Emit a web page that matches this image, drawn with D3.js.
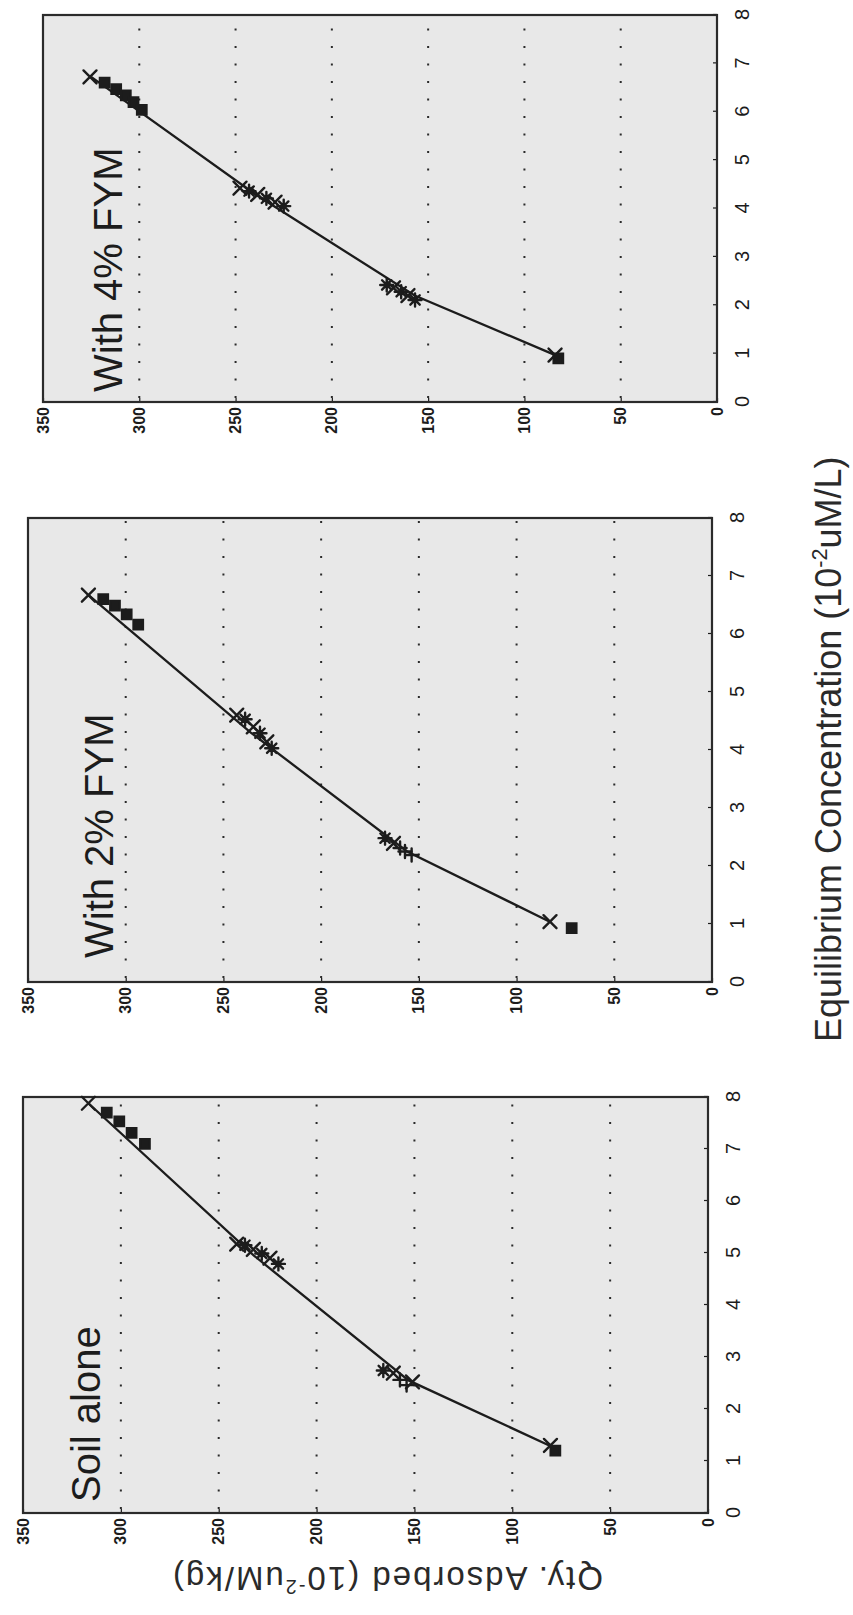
<!DOCTYPE html>
<html>
<head>
<meta charset="utf-8">
<script src="https://cdn.jsdelivr.net/npm/d3@7"></script>
<style>
  html, body { margin: 0; padding: 0; background: #ffffff; }
  svg { display: block; }
</style>
</head>
<body>
<svg id="fig" width="853" height="1615"></svg>
<script>
// Adsorption isotherms (quantity adsorbed vs equilibrium concentration),
// three treatments, laid out as a landscape figure turned on its side.

const panelTitles = ["Soil alone", "With 2% FYM", "With 4% FYM"];
const concTicks = [0, 1, 2, 3, 4, 5, 6, 7, 8];
const qtyTicks = [0, 50, 100, 150, 200, 250, 300, 350];
const gridValues = [50, 100, 150, 200, 250, 300];
const xLabel = ["Equilibrium Concentration (10", "-2", "uM/L)"];
const yLabel = ["Qty. Adsorbed (10", "-2", "uM/kg)"];

// fitted isotherm curves: [concentration, quantity adsorbed]
const soilCurve = [[1.28, 80], [2.55, 153], [4.95, 232], [7.88, 316.6]];
const fym2Curve = [[1.04, 83], [2.25, 156], [4.30, 236], [6.67, 319]];
const fym4Curve = [[0.97, 84], [2.20, 157], [4.30, 240], [6.72, 325]];

// observations: [concentration, quantity adsorbed, marker]
const soilPoints = [
  [1.30, 80.5, "x"], [1.20, 78, "s"],
  [2.74, 165.9, "*"], [2.69, 160.8, "x"], [2.56, 157.4, "+"], [2.46, 154, "+"], [2.52, 151, "x"],
  [5.17, 240.8, "x"], [5.15, 236.6, "*"], [5.07, 232.3, "x"], [4.99, 228, "*"], [4.90, 223.8, "x"], [4.79, 219.5, "*"],
  [7.88, 316.6, "x"], [7.70, 307.2, "s"], [7.53, 300.8, "s"], [7.31, 294.5, "s"], [7.10, 287.7, "s"]
];
const fym2Points = [
  [1.04, 82.9, "x"], [0.93, 71.8, "s"],
  [2.48, 167.3, "*"], [2.39, 163, "x"], [2.31, 159.6, "+"], [2.25, 157.1, "+"], [2.19, 153.7, "+"],
  [4.60, 243.2, "x"], [4.53, 238.9, "*"], [4.40, 234.7, "x"], [4.29, 231.3, "*"], [4.14, 227.8, "x"], [4.03, 225.3, "*"],
  [6.67, 319.1, "x"], [6.60, 311.5, "s"], [6.49, 305.5, "s"], [6.34, 299.5, "s"], [6.16, 293.6, "s"]
];
const fym4Points = [
  [0.97, 84.1, "x"], [0.90, 82.4, "s"],
  [2.42, 171.5, "*"], [2.36, 168, "x"], [2.28, 164, "*"], [2.20, 160.5, "x"], [2.11, 156.8, "*"],
  [4.42, 247.7, "x"], [4.36, 243, "*"], [4.29, 238.5, "x"], [4.21, 234, "*"], [4.13, 229.5, "x"], [4.05, 225, "*"],
  [6.72, 325.6, "x"], [6.60, 318, "s"], [6.47, 312, "s"], [6.34, 307, "s"], [6.20, 303, "s"], [6.04, 298.7, "s"]
];

const FONT = "'Liberation Sans', Arial, Helvetica, sans-serif";
const NARROW = "'Liberation Sans Narrow', 'Arial Narrow', 'Liberation Sans', Arial, sans-serif";
const INK = "#1c1c1c";

// panel frames on the page (the plots are drawn upright, then turned -90deg)
const panels = [
  { title: panelTitles[0], curve: soilCurve, pts: soilPoints, left: 23, top: 1097, right: 708, bottom: 1513, tx: 11, ty: 77 },
  { title: panelTitles[1], curve: fym2Curve, pts: fym2Points, left: 28, top: 518, right: 712, bottom: 982, tx: 24, ty: 85 },
  { title: panelTitles[2], curve: fym4Curve, pts: fym4Points, left: 43, top: 15, right: 717, bottom: 402, tx: 10, ty: 79 }
];

function markerPath(type, r) {
  const a = r * 0.72;
  switch (type) {
    case "x": return `M${-r},${-r}L${r},${r}M${-r},${r}L${r},${-r}`;
    case "+": return `M${-r},0L${r},0M0,${-r}L0,${r}`;
    case "*": return `M${-r},0L${r},0M0,${-r}L0,${r}M${-a},${-a}L${a},${a}M${-a},${a}L${a},${-a}`;
    default:  return `M${-a},${-a}h${2 * a}v${2 * a}h${-2 * a}Z`;
  }
}

const svg = d3.select("#fig");

panels.forEach(p => {
  const W = p.bottom - p.top;   // length of the concentration axis
  const H = p.right - p.left;   // length of the quantity axis
  const g = svg.append("g").attr("transform", `translate(${p.left},${p.bottom}) rotate(-90)`);

  const x = d3.scaleLinear().domain([0, 8]).range([0, W]);
  const y = d3.scaleLinear().domain([0, 350]).range([H, 0]);

  g.append("rect").attr("width", W).attr("height", H).attr("fill", "#e8e8e8");

  // dotted horizontal grid
  g.append("g").selectAll("line").data(gridValues).join("line")
    .attr("x1", 4).attr("x2", W).attr("y1", d => y(d)).attr("y2", d => y(d))
    .attr("stroke", "#2a2a2a").attr("stroke-width", 2)
    .attr("stroke-dasharray", "2,15.5");

  // axes
  const xAxis = d3.axisBottom(x).tickValues(concTicks).tickSize(-4).tickPadding(18).tickFormat(d3.format("d"));
  g.append("g").attr("transform", `translate(0,${H})`).call(xAxis)
    .call(a => a.select(".domain").remove())
    .call(a => a.selectAll("line").attr("stroke", INK).attr("stroke-width", 1.2))
    .call(a => a.selectAll("text").attr("font-family", NARROW).attr("font-size", 20).attr("fill", INK));

  const yAxis = d3.axisLeft(y).tickValues(qtyTicks).tickSize(-4).tickPadding(5).tickFormat(d3.format("d"));
  g.append("g").call(yAxis)
    .call(a => a.select(".domain").remove())
    .call(a => a.selectAll("line").attr("stroke", INK).attr("stroke-width", 1.2))
    .call(a => a.selectAll("text").attr("font-family", NARROW).attr("font-size", 16)
      .attr("font-weight", "bold").attr("fill", INK));

  // frame
  g.append("rect").attr("width", W).attr("height", H)
    .attr("fill", "none").attr("stroke", "#2b2b2b").attr("stroke-width", 2.2);

  // isotherm curve
  const line = d3.line().x(d => x(d[0])).y(d => y(d[1]));
  g.append("path").datum(p.curve).attr("d", line)
    .attr("fill", "none").attr("stroke", INK).attr("stroke-width", 2.3);

  // observations
  g.append("g").selectAll("path").data(p.pts).join("path")
    .attr("transform", d => `translate(${x(d[0])},${y(d[1])})`)
    .attr("d", d => markerPath(d[2], 6.5))
    .attr("fill", d => d[2] === "s" ? INK : "none")
    .attr("stroke", INK).attr("stroke-width", 2.4).attr("stroke-linecap", "round");

  // panel title
  g.append("text").attr("x", p.tx).attr("y", p.ty)
    .attr("font-family", FONT).attr("font-size", 40).attr("fill", INK)
    .text(p.title);
});

// axis titles
function labelWithSup(sel, parts, size) {
  sel.attr("font-family", FONT).attr("font-size", size).attr("fill", "#2a2a2a");
  sel.append("tspan").text(parts[0]);
  sel.append("tspan").attr("font-size", size * 0.6).attr("dy", -size * 0.38).text(parts[1]);
  sel.append("tspan").attr("dy", size * 0.38).text(parts[2]);
}

labelWithSup(
  svg.append("text").attr("transform", "translate(841,1042) rotate(-90)"),
  xLabel, 36
);
labelWithSup(
  svg.append("text").attr("transform", "translate(603,1567) rotate(180)")
    .attr("letter-spacing", 2),
  yLabel, 33
);
</script>
</body>
</html>
